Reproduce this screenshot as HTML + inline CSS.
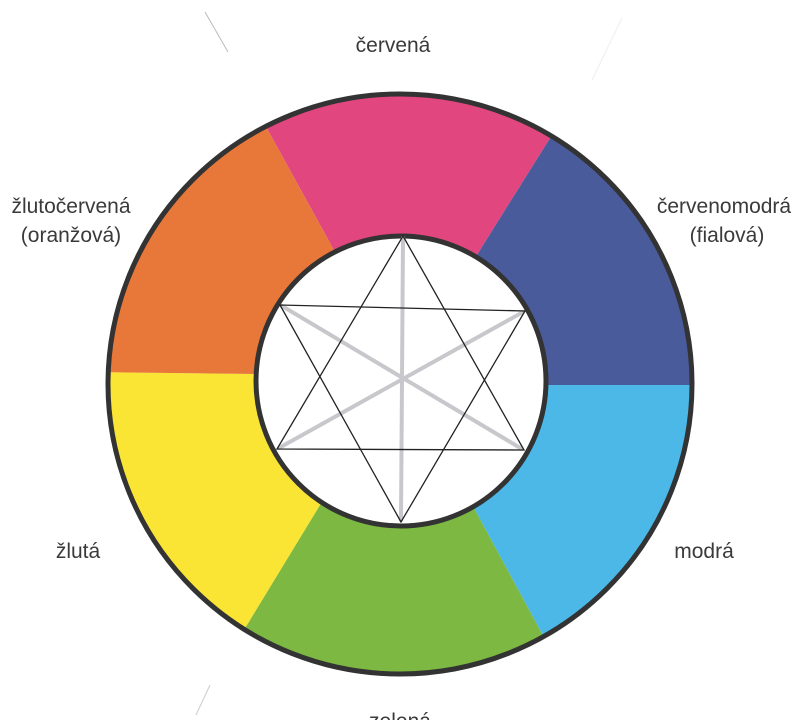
<!DOCTYPE html>
<html><head><meta charset="utf-8"><style>
html,body{margin:0;padding:0;background:#fff;}
svg{display:block}
text{font-family:"Liberation Sans",sans-serif;fill:#3a3a3a;}
</style></head><body>
<svg width="800" height="720" viewBox="0 0 800 720" xmlns="http://www.w3.org/2000/svg">
<defs>
<clipPath id="ring"><ellipse cx="400" cy="384" rx="292" ry="290"/></clipPath>
</defs>
<line x1="205" y1="12" x2="228" y2="52" stroke="#bbb" stroke-width="1"/>
<line x1="622" y1="18" x2="592" y2="80" stroke="#eee" stroke-width="1"/>
<line x1="210" y1="685" x2="196" y2="715" stroke="#ccc" stroke-width="1"/>
<g clip-path="url(#ring)">
<polygon fill="#e2467e" points="400,381 330,243 200,7 624,20 480,250"/>
<polygon fill="#4a5b9c" points="400,381 480,250 624,20 800,0 800,385 546,385"/>
<polygon fill="#4bb8e8" points="400,381 546,385 800,385 800,750 605,750 475,510"/>
<polygon fill="#7db843" points="400,381 475,510 605,750 180,735 320,505"/>
<polygon fill="#fbe534" points="400,381 320,505 180,735 0,720 0,371 256,374"/>
<polygon fill="#e8783a" points="400,381 256,374 0,371 0,0 200,7 330,243"/>
</g>
<ellipse cx="400" cy="384" rx="292" ry="290" fill="none" stroke="#333" stroke-width="5"/>
<circle cx="401" cy="381" r="145" fill="#fff" stroke="#333" stroke-width="5"/>
<g stroke="#c8c8cc" stroke-width="4" stroke-linecap="round">
<line x1="403" y1="238" x2="401" y2="520"/>
<line x1="282" y1="306" x2="522" y2="449"/>
<line x1="279" y1="448" x2="523" y2="312"/>
</g>
<g stroke="#222" stroke-width="1.3" fill="none">
<polygon points="403,236 524,450 277,449"/>
<polygon points="401,522 280,305 525,311"/>
</g>
<g font-size="21" text-anchor="middle">
<text x="393" y="52">červená</text>
<text x="71" y="213">žlutočervená</text>
<text x="71" y="242">(oranžová)</text>
<text x="724" y="213">červenomodrá</text>
<text x="727" y="242">(fialová)</text>
<text x="78" y="558">žlutá</text>
<text x="704" y="558">modrá</text>
<text x="400" y="728">zelená</text>
</g>
</svg>
</body></html>
